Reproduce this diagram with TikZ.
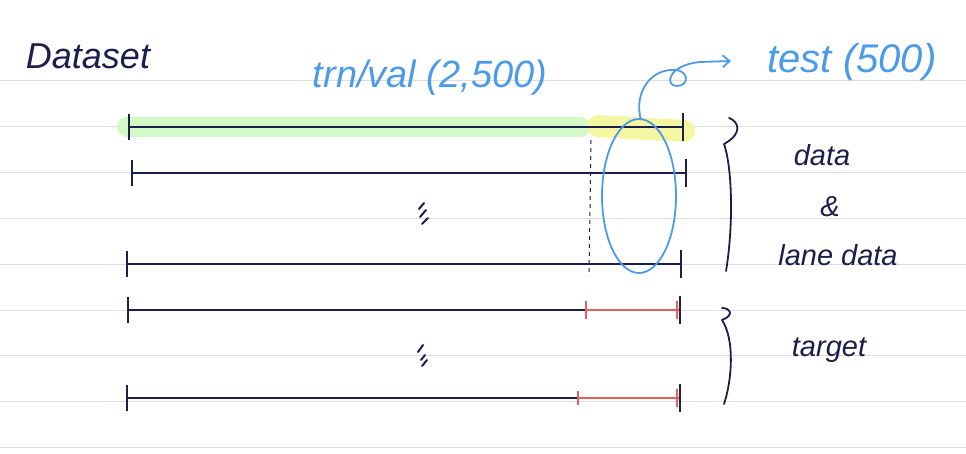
\documentclass[tikz,border=0pt]{standalone}
\usepackage{fontspec}
\setmainfont{Liberation Sans}
\usetikzlibrary{arrows.meta}
\definecolor{ink}{HTML}{1B1F4B}
\definecolor{pen}{HTML}{4C9BE8}
\definecolor{hlgreen}{HTML}{D2F9C6}
\definecolor{hlyellow}{HTML}{F4F6A2}
\definecolor{redpen}{HTML}{E0625A}
\definecolor{rule}{HTML}{DDDDDD}
\tikzset{
  tl/.style={draw=ink, line width=1.8pt},
  tick/.style={draw=ink, line width=2pt},
  redseg/.style={draw=redpen, line width=2.2pt},
  lbl/.style={text=ink, font=\itshape\fontsize{29}{29}\selectfont, inner sep=0pt},
  bluelbl/.style={text=pen, font=\itshape\fontsize{38}{38}\selectfont, inner sep=0pt},
  hbrace/.style={draw=ink, line width=1.8pt, line cap=round, line join=round},
  dotmark/.style={draw=ink, line width=2pt, line cap=round},
}
\begin{document}
\begin{tikzpicture}[x=1pt,y=-1pt]
\useasboundingbox (0,0) rectangle (966,454);
\fill[white] (0,0) rectangle (966,454);
% ruled paper lines
\foreach \yy in {80,126,172,218,264,310,355,401,447}
  \draw[rule, line width=0.9pt] (0,\yy) -- (966,\yy);
% highlights
\draw[hlgreen, line width=20pt, line cap=round] (127,127) -- (580,127);
\draw[hlyellow, line width=22pt, line cap=round] (598,126) -- (684,131);
% titles
\node[text=ink, font=\itshape\fontsize{36}{36}\selectfont, inner sep=0pt] (title) at (88,56) {Dataset};
\node[bluelbl] (trn) at (430,78) {trn/val (2,500)};
\node[text=pen, font=\itshape\fontsize{40}{40}\selectfont, inner sep=0pt] (test) at (852,62) {test (500)};
% coordinates
\coordinate (a1) at (129,127); \coordinate (b1) at (683,127);
\coordinate (a2) at (132,173); \coordinate (b2) at (686,173);
\coordinate (a3) at (127,264); \coordinate (b3) at (681,264);
\coordinate (a4) at (128,310); \coordinate (b4) at (680,310);
\coordinate (a5) at (127,398); \coordinate (b5) at (680,398);
\coordinate (r4) at (586,310); \coordinate (r5) at (578,398);
% timelines
\foreach \n in {1,...,5}{
  \draw[tl] (a\n) -- (b\n);
  \draw[tick] ([yshift=-13pt]a\n) -- ([yshift=13pt]a\n);
  \draw[tick] ([yshift=-14pt]b\n) -- ([yshift=14pt]b\n);
}
% red target segments
\draw[redseg] (r4) -- (b4);
\draw[redseg] ([yshift=-9pt]r4) -- ([yshift=9pt]r4);
\draw[redseg] ([xshift=-3pt,yshift=-9pt]b4) -- ([xshift=-3pt,yshift=9pt]b4);
\draw[redseg] (r5) -- (b5);
\draw[redseg] ([yshift=-7pt]r5) -- ([yshift=7pt]r5);
\draw[redseg] ([xshift=-3pt,yshift=-9pt]b5) -- ([xshift=-3pt,yshift=9pt]b5);
\draw[tick] ([yshift=-14pt]b4) -- ([yshift=14pt]b4);
\draw[tick] ([yshift=-14pt]b5) -- ([yshift=14pt]b5);
% dashed split line
\coordinate (d1) at (591,140); \coordinate (d2) at (589,276);
\draw[ink, line width=1pt, dash pattern=on 4pt off 4pt] (d1) -- (d2);
% vertical ellipsis marks (hand strokes)
\coordinate (m1) at (423,213);
\coordinate (m2) at (422,356);
\draw[dotmark] ([shift={(-4,-4)}]m1) -- ([shift={(1,-10)}]m1)
               ([shift={(-3,4)}]m1) -- ([shift={(3,-3)}]m1)
               ([shift={(-1,11)}]m1) -- ([shift={(5,5)}]m1);
\draw[dotmark] ([shift={(-4,-4)}]m2) -- ([shift={(1,-11)}]m2)
               ([shift={(-1,4)}]m2) -- ([shift={(3,-1)}]m2)
               ([shift={(0,10)}]m2) -- ([shift={(5,4)}]m2);
% blue ellipse and arrow
\draw[pen, line width=1.8pt] (639,196) ellipse [x radius=37pt, y radius=77pt];
\coordinate (etop) at (641,120);
\coordinate (tip) at (731,61);
\draw[pen, line width=1.8pt, -{Straight Barb[length=7pt,width=12pt]}]
  (etop) .. controls (634,95) and (648,72) .. (670,70)
  .. controls (690,68) and (690,86) .. (677,86)
  .. controls (664,86) and (668,65) .. (700,62)
  -- (tip);
% braces (hand-drawn style)
\coordinate (br1) at (729,118); \coordinate (br1e) at (726,271);
\draw[hbrace] (br1) .. controls (738,121) and (744,133) .. (724,144)
  .. controls (733,170) and (733,230) .. (br1e);
\coordinate (br2) at (722,308); \coordinate (br2e) at (724,404);
\draw[hbrace] (br2) .. controls (730,308) and (735,315) .. (722,320)
  .. controls (735,340) and (732,380) .. (br2e);
% labels
\node[lbl] (data) at (822,155) {data};
\node[lbl] (amp) at (830,207) {\&};
\node[lbl] (lane) at (838,255) {lane data};
\node[lbl] (target) at (829,350) {target};
\end{tikzpicture}
\end{document}
